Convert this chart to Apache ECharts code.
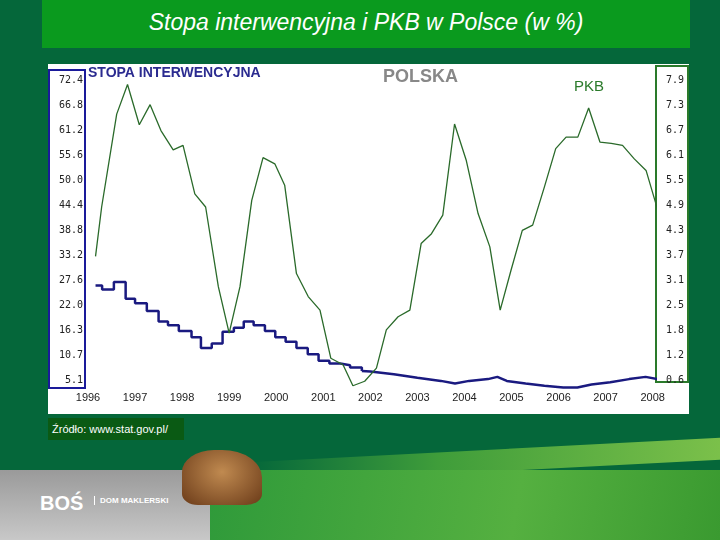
<!DOCTYPE html>
<html><head><meta charset="utf-8">
<script src="https://cdn.jsdelivr.net/npm/echarts@6/dist/echarts.min.js"></script>
<style>
body{margin:0;width:720px;height:540px;overflow:hidden;background:#05673a;font-family:"Liberation Sans",Arial,sans-serif;position:relative}
#title{position:absolute;left:42px;top:0;width:648px;height:48px;background:#0a9a1e;color:#fff;font-style:italic;font-size:23px;text-align:center;line-height:44px}
#chart{position:absolute;left:48px;top:64px;width:641px;height:350px;background:#fff}
#src{position:absolute;left:48px;top:418px;width:132px;height:22px;background:#0a5a14;color:#fff;font-size:11px;line-height:22px;padding-left:4px}
#grey{position:absolute;left:0;top:470px;width:210px;height:70px;background:linear-gradient(#9a9a9a,#c8c8c8)}
#logo{position:absolute;left:40px;top:492px;color:#fff;font-size:20px;font-weight:bold}
#logo2{position:absolute;left:94px;top:496px;color:#fff;font-size:8px;font-weight:bold;border-left:1px solid #fff;padding-left:5px}
#sw1{position:absolute;left:210px;top:470px;width:510px;height:70px;background:linear-gradient(100deg,#2f9a3a,#55b040 60%,#3a9a30)}
#sw2{position:absolute;left:250px;top:450px;width:470px;height:22px;background:linear-gradient(90deg,rgba(80,170,60,0),#3f9d3a 40%,#7bc04a);transform:skewY(-3deg)}
#bull{position:absolute;left:182px;top:450px;width:80px;height:55px;background:radial-gradient(ellipse at 50% 40%,#c08a50,#6a3a18);border-radius:40% 50% 20% 20%}
</style></head><body>
<div id="title">Stopa interwencyjna i PKB w Polsce (w %)</div>
<div id="sw2"></div><div id="sw1"></div>
<div id="grey"></div><div id="logo">BOŚ</div><div id="logo2">DOM MAKLERSKI</div>
<div id="bull"></div>
<div id="chart"></div>
<div id="src">Źródło: www.stat.gov.pl/</div>
<script>
const years = [1996,1997,1998,1999,2000,2001,2002,2003,2004,2005,2006,2007,2008];
const leftTicks = ['5.1','10.7','16.3','22.0','27.6','33.2','38.8','44.4','50.0','55.6','61.2','66.8','72.4'];
const rightTicks = ['0.6','1.2','1.8','2.5','3.1','3.7','4.3','4.9','5.5','6.1','6.7','7.3','7.9'];
const pkbT = [1996.16,1996.29,1996.61,1996.84,1997.09,1997.32,1997.55,1997.81,1998.02,1998.27,1998.50,1998.77,1999.00,1999.23,1999.48,1999.72,1999.97,2000.18,2000.43,2000.68,2000.93,2001.16,2001.42,2001.63,2001.88,2002.13,2002.34,2002.59,2002.84,2003.08,2003.30,2003.54,2003.79,2004.04,2004.29,2004.54,2004.76,2004.99,2005.23,2005.45,2005.70,2005.94,2006.16,2006.41,2006.64,2006.88,2007.12,2007.36,2007.61,2007.86,2008.11];
const pkbV = [3.61,4.81,7.07,7.79,6.81,7.30,6.67,6.20,6.31,5.13,4.81,2.87,1.74,2.87,4.97,6.01,5.86,5.34,3.19,2.63,2.30,1.13,0.97,0.46,0.57,0.89,1.82,2.14,2.30,3.92,4.16,4.61,6.83,5.94,4.65,3.84,2.30,3.27,4.24,4.37,5.30,6.23,6.51,6.51,7.22,6.39,6.36,6.31,5.98,5.70,4.73];
const rateT = [1996.16,1996.30,1996.55,1996.80,1997.00,1997.25,1997.50,1997.70,1997.93,1998.20,1998.40,1998.63,1998.86,1999.10,1999.31,1999.52,1999.76,1999.98,2000.20,2000.43,2000.67,2000.90,2001.13,2001.36,2001.57,2001.82];
const rateV = [26.3,25.4,27.1,23.3,22.3,20.6,18.2,17.4,16.1,14.7,12.3,13.3,15.9,16.8,18.2,17.4,16.1,14.7,13.7,12.3,10.9,9.4,8.8,8.4,7.9,7.1];
const rateT2 = [2002.0,2002.5,2003.0,2003.5,2003.8,2004.1,2004.5,2004.7,2004.9,2005.3,2005.7,2006.1,2006.4,2006.7,2007.1,2007.5,2007.85,2008.1,2008.3];
const rateV2 = [7.0,6.4,5.6,4.9,4.3,4.9,5.3,5.8,4.9,4.3,3.8,3.4,3.4,4.1,4.6,5.3,5.8,5.3,4.5];

const stepData = [];
rateT.forEach((t,i)=>stepData.push([t,rateV[i]]));
const lineData2 = rateT2.map((t,i)=>[t,rateV2[i]]);
const lmin=5.1,lmax=72.4,rmin=0.6,rmax=7.9;
const lint=(lmax-lmin)/12, rint=(rmax-rmin)/12;
const mono='"DejaVu Sans Mono",monospace';
const chart = echarts.init(document.getElementById('chart'));
chart.setOption({
  animation:false,
  grid:{left:40,right:34,top:16,bottom:34},
  xAxis:{type:'value',min:1996,max:2008.05,interval:1,axisLine:{show:false},axisTick:{show:false},splitLine:{show:false},
    axisLabel:{color:'#222',fontSize:11,margin:12,formatter:v=>{const y=Math.round(v);return years.includes(y)?String(y):'';}}},
  yAxis:[
    {type:'value',min:lmin,max:lmax,interval:lint,position:'left',axisLine:{show:false},axisTick:{show:false},splitLine:{show:false},
     axisLabel:{fontFamily:mono,fontSize:10,color:'#222',margin:5,formatter:v=>leftTicks[Math.round((v-lmin)/lint)]||''}},
    {type:'value',min:rmin,max:rmax,interval:rint,position:'right',axisLine:{show:false},axisTick:{show:false},splitLine:{show:false},
     axisLabel:{fontFamily:mono,fontSize:10,color:'#222',margin:11,formatter:v=>rightTicks[Math.round((v-rmin)/rint)]||''}}
  ],
  graphic:[
    {type:'rect',shape:{x:1,y:6,width:36,height:318},style:{fill:'none',stroke:'#1a1a9a',lineWidth:2}},
    {type:'rect',shape:{x:608,y:2,width:32,height:316},style:{fill:'none',stroke:'#2a7a2a',lineWidth:2}},
    {type:'text',left:40,top:2,style:{text:'STOPA INTERWENCYJNA',fill:'#2b2b90',font:'bold 14px "Liberation Sans",Arial'}},
    {type:'text',left:335,top:4,style:{text:'POLSKA',fill:'#888',font:'bold 18px "Liberation Sans",Arial'}},
    {type:'text',left:526,top:15,style:{text:'PKB',fill:'#2a7a2a',font:'15px "Liberation Sans",Arial'}}
  ],
  series:[
    {type:'line',yAxisIndex:0,step:'end',data:stepData,symbol:'none',clip:false,lineStyle:{color:'#1a1a80',width:2.5}},
    {type:'line',yAxisIndex:0,data:[stepData[stepData.length-1]].concat(lineData2),symbol:'none',clip:false,lineStyle:{color:'#1a1a80',width:2.5}},
    {type:'line',yAxisIndex:1,data:pkbT.map((t,i)=>[t,pkbV[i]]),symbol:'none',clip:false,lineStyle:{color:'#2a6a2a',width:1.3}}
  ]
});
</script></body></html>
